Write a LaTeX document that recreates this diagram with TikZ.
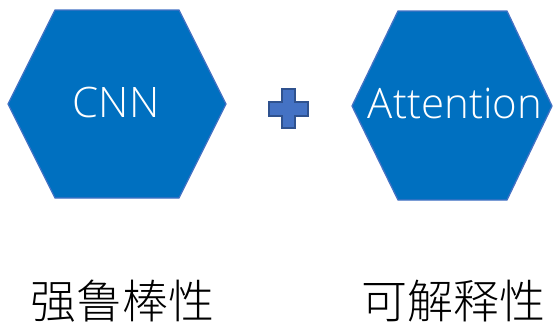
\documentclass[tikz,border=0pt]{standalone}
\usepackage{fontspec}
\setmainfont{Open Sans}[UprightFont={* Light}]
\newfontfamily\cjk{Noto Sans CJK SC}[UprightFont={* Light}]
\definecolor{hexfill}{HTML}{0070C0}
\definecolor{hexline}{HTML}{4472C4}
\definecolor{plusfill}{HTML}{4472C4}
\definecolor{plusline}{HTML}{2F528F}
\begin{document}
\begin{tikzpicture}[x=1pt,y=-1pt,
  hexa/.style={fill=hexfill,draw=hexline,line width=1.3pt,line join=miter},
  plusshape/.style={fill=plusfill,draw=plusline,line width=1.5pt},
  hexlabel/.style={text=white,font=\fontsize{42}{42}\selectfont,inner sep=0pt},
  cnlabel/.style={text=black,font=\cjk\fontsize{46}{46}\selectfont,inner sep=0pt}]
\useasboundingbox (0,0) rectangle (553,324);
% left hexagon
\draw[hexa] (55,10) -- (179,10) -- (226,104) -- (179,198) -- (55,198) -- (8,104) -- cycle;
\node[hexlabel] (cnn) at (116,102) {CNN};
% right hexagon
\draw[hexa] (398,11) -- (507,11) -- (552,106) -- (507,200) -- (398,200) -- (352,106) -- cycle;
\node[hexlabel] (att) at (455,103) {Attention};
% plus
\draw[plusshape] (282,89) -- (295,89) -- (295,102) -- (308,102) -- (308,116) -- (295,116) -- (295,128) -- (282,128) -- (282,116) -- (269,116) -- (269,102) -- (282,102) -- cycle;
% labels
\node[cnlabel] (rob) at (122.5,301) {强鲁棒性};
\node[cnlabel] (interp) at (453.5,301) {可解释性};
\end{tikzpicture}
\end{document}
